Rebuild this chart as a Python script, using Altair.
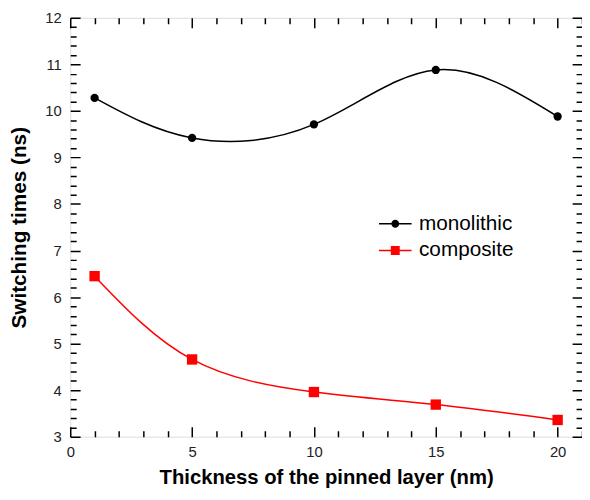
import altair as alt
import pandas as pd

# ---- data ----
thickness = [1, 5, 10, 15, 20]
monolithic = [10.28, 9.42, 9.71, 10.88, 9.88]
composite = [6.45, 4.66, 3.96, 3.69, 3.36]
series_names = ["monolithic", "composite"]
series_colors = ["#000000", "#ff0000"]

x_ticks = list(range(0, 22))
y_ticks = [round(3 + 0.2 * i, 1) for i in range(46)]

W, H = 518, 424
FONT = "Liberation Sans"

rows = []
for name, vals in zip(series_names, [monolithic, composite]):
    for xv, yv in zip(thickness, vals):
        rows.append({"series": name, "x": xv, "y": yv})
df = pd.DataFrame(rows)

# legend symbols: line segment + marker (custom paths)
legend_paths = [
    "M-1.65,-0.075H1.65V0.075H-1.65Z M-0.4,0A0.4,0.4 0 1,1 0.4,0A0.4,0.4 0 1,1 -0.4,0Z",
    "M-1.65,-0.075H1.65V0.075H-1.65Z M-0.45,-0.45H0.45V0.45H-0.45Z",
]

x_axis = alt.Axis(
    values=x_ticks,
    labelExpr="datum.value % 5 === 0 ? datum.label : ''",
    domain=False,
    ticks=False,
    grid=True,
    gridColor="black",
    gridOpacity=1,
    gridWidth=1.5,
    gridDash={"condition": {"test": "datum.value % 5 === 0", "value": [10, H - 20]},
              "value": [6, H - 12]},
    labelPadding=8,
    labelFontSize=15,
    labelFont=FONT,
    labelColor="#222222",
    labelFlush=False,
    labelOverlap=False,
    title="Thickness of the pinned layer (nm)",
    titleFont=FONT,
    titleFontSize=20.5,
    titleFontWeight="bold",
    titleColor="black",
    titlePadding=8,
)

y_axis = alt.Axis(
    values=y_ticks,
    labelExpr="abs(datum.value - round(datum.value)) < 0.001 ? format(datum.value, 'd') : ''",
    domain=False,
    ticks=False,
    grid=True,
    gridColor="black",
    gridOpacity=1,
    gridWidth=1.5,
    gridDash={"condition": {"test": "abs(datum.value - round(datum.value)) < 0.001",
                            "value": [10, W - 20]},
              "value": [6, W - 12]},
    labelPadding=9,
    labelFontSize=15,
    labelFont=FONT,
    labelColor="#222222",
    labelFlush=False,
    labelOverlap=False,
    title="Switching times (ns)",
    titleFont=FONT,
    titleFontSize=21,
    titleFontWeight="bold",
    titleColor="black",
    titlePadding=16,
)

x_enc = alt.X("x:Q", scale=alt.Scale(domain=[0, 21], nice=False, zero=False), axis=x_axis)
y_enc = alt.Y("y:Q", scale=alt.Scale(domain=[3, 12], nice=False, zero=False), axis=y_axis)
color_scale = alt.Scale(domain=series_names, range=series_colors)

base = alt.Chart(df)
mono_df = base.transform_filter(alt.datum.series == "monolithic")
comp_df = base.transform_filter(alt.datum.series == "composite")

line_mono = mono_df.mark_line(interpolate="natural", strokeWidth=1.5, color=series_colors[0]).encode(
    x=x_enc, y=y_enc)
line_comp = comp_df.mark_line(interpolate="natural", strokeWidth=1.5, color=series_colors[1]).encode(
    x=x_enc, y=y_enc)
circles = mono_df.mark_circle(size=70, opacity=1, color=series_colors[0]).encode(x=x_enc, y=y_enc)
squares = comp_df.mark_square(size=110, opacity=1, color=series_colors[1]).encode(x=x_enc, y=y_enc)

legend = alt.Legend(
    orient="none",
    legendX=318.5,
    legendY=198,
    title=None,
    padding=0,
    symbolSize=400,
    symbolStrokeWidth=0,
    symbolOpacity=1,
    labelFont=FONT,
    labelFontSize=21,
    labelColor="black",
    labelOffset=13.5,
    rowPadding=5,
)

legend_layer = base.transform_filter("false").mark_point(filled=True, opacity=1).encode(
    x=x_enc, y=y_enc,
    color=alt.Color("series:N", scale=color_scale, legend=legend),
    shape=alt.Shape("series:N", scale=alt.Scale(domain=series_names, range=legend_paths),
                    legend=legend),
)

chart = alt.layer(line_mono, line_comp, circles, squares, legend_layer).properties(
    width=W, height=H, padding={"left": 0, "top": 0, "right": 0, "bottom": 0}
).configure_view(
    stroke="black", strokeWidth=2.5
).configure(background="white")

chart.save("out.html", embed_options={"renderer": "svg", "actions": False})
